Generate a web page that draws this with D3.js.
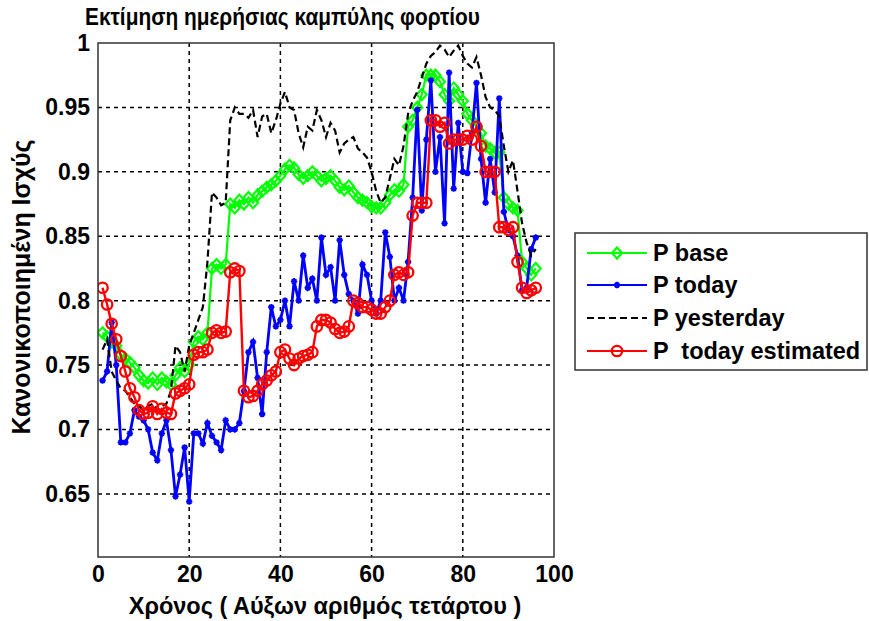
<!DOCTYPE html>
<html>
<head>
<meta charset="utf-8">
<script src="https://cdn.jsdelivr.net/npm/d3@7"></script>
<style>
  html, body { margin: 0; padding: 0; background: #fff; }
  svg { display: block; }
  text { font-family: Arial, "Liberation Sans", sans-serif; }
</style>
</head>
<body>
<svg id="chart" width="869" height="621"></svg>
<script>
// Daily load curve estimation: quarter-hour index 1..96, normalised power
const quarters = d3.range(1, 97);

const pBase = [
  0.775, 0.772, 0.768, 0.765, 0.758, 0.755, 0.752, 0.748, 0.742, 0.738,
  0.736, 0.740, 0.735, 0.740, 0.737, 0.735, 0.742, 0.748, 0.745, 0.750,
  0.768, 0.772, 0.770, 0.775, 0.825, 0.828, 0.825, 0.828, 0.875, 0.872,
  0.878, 0.875, 0.880, 0.876, 0.882, 0.885, 0.888, 0.890, 0.893, 0.897,
  0.902, 0.905, 0.903, 0.898, 0.895, 0.897, 0.900, 0.897, 0.893, 0.895,
  0.897, 0.893, 0.888, 0.886, 0.889, 0.884, 0.880, 0.878, 0.876, 0.873,
  0.872, 0.872, 0.876, 0.882, 0.886, 0.885, 0.890, 0.935, 0.940, 0.950,
  0.960, 0.975, 0.975, 0.975, 0.970, 0.960, 0.955, 0.965, 0.960, 0.955,
  0.945, 0.940, 0.935, 0.930, 0.920, 0.918, 0.915, 0.915, 0.880, 0.875,
  0.872, 0.870, 0.830, 0.825, 0.820, 0.825
];

const pToday = [
  0.738, 0.745, 0.783, 0.750, 0.690, 0.690, 0.697, 0.715, 0.710, 0.707,
  0.700, 0.682, 0.676, 0.697, 0.707, 0.684, 0.648, 0.665, 0.686, 0.644,
  0.697, 0.697, 0.689, 0.705, 0.695, 0.690, 0.684, 0.707, 0.700, 0.700,
  0.705, 0.730, 0.760, 0.768, 0.740, 0.712, 0.760, 0.795, 0.780, 0.785,
  0.800, 0.780, 0.815, 0.800, 0.835, 0.810, 0.817, 0.800, 0.849, 0.820,
  0.826, 0.800, 0.847, 0.820, 0.805, 0.800, 0.790, 0.828, 0.820, 0.800,
  0.790, 0.800, 0.853, 0.834, 0.800, 0.810, 0.800, 0.830, 0.880, 0.948,
  0.870, 0.925, 0.971, 0.900, 0.927, 0.860, 0.977, 0.887, 0.938, 0.900,
  0.899, 0.930, 0.969, 0.910, 0.876, 0.910, 0.884, 0.957, 0.869, 0.855,
  0.850, 0.835, 0.808, 0.810, 0.840, 0.849
];

const pYesterday = [
  0.762, 0.770, 0.745, 0.738, 0.732, 0.730, 0.725, 0.720, 0.718, 0.715,
  0.718, 0.720, 0.715, 0.718, 0.720, 0.730, 0.765, 0.760, 0.745, 0.765,
  0.775, 0.785, 0.795, 0.830, 0.884, 0.880, 0.874, 0.876, 0.940, 0.950,
  0.945, 0.945, 0.942, 0.948, 0.927, 0.943, 0.945, 0.930, 0.940, 0.953,
  0.962, 0.950, 0.948, 0.930, 0.919, 0.935, 0.932, 0.948, 0.940, 0.927,
  0.938, 0.932, 0.915, 0.922, 0.925, 0.927, 0.918, 0.915, 0.911, 0.900,
  0.885, 0.876, 0.880, 0.895, 0.910, 0.905, 0.920, 0.945, 0.955, 0.962,
  0.973, 0.984, 0.990, 0.993, 0.998, 0.995, 0.989, 0.994, 0.998, 0.990,
  0.984, 0.981, 0.989, 0.975, 0.958, 0.950, 0.948, 0.943, 0.920, 0.900,
  0.909, 0.885, 0.860, 0.845, 0.835, 0.840
];

const pEstimated = [
  0.810, 0.797, 0.782, 0.770, 0.757, 0.745, 0.732, 0.725, 0.715, 0.712,
  0.713, 0.718, 0.712, 0.716, 0.713, 0.712, 0.728, 0.730, 0.732, 0.735,
  0.758, 0.760, 0.760, 0.762, 0.775, 0.777, 0.775, 0.776, 0.822, 0.825,
  0.823, 0.730, 0.725, 0.726, 0.730, 0.735, 0.738, 0.742, 0.745, 0.760,
  0.762, 0.755, 0.750, 0.755, 0.757, 0.758, 0.760, 0.780, 0.785, 0.785,
  0.783, 0.778, 0.775, 0.776, 0.780, 0.800, 0.798, 0.795, 0.795, 0.793,
  0.790, 0.790, 0.795, 0.800, 0.820, 0.822, 0.820, 0.822, 0.866, 0.876,
  0.876, 0.876, 0.940, 0.940, 0.935, 0.938, 0.922, 0.925, 0.925, 0.925,
  0.928, 0.925, 0.935, 0.920, 0.900, 0.900, 0.900, 0.857, 0.857, 0.855,
  0.857, 0.830, 0.810, 0.806, 0.808, 0.810
];

const xTicks = [0, 20, 40, 60, 80, 100];
const yTicks = [0.65, 0.7, 0.75, 0.8, 0.85, 0.9, 0.95, 1];

const titleText = "Εκτίμηση ημερήσιας καμπύλης φορτίου";
const xLabelText = "Χρόνος ( Αύξων αριθμός τετάρτου )";
const yLabelText = "Κανονικοποιημένη Ισχύς";
const legendNames = ["P base", "P today", "P yesterday", "P  today estimated"];

const svg = d3.select("#chart");
const plot = { left: 98, right: 554, top: 43, bottom: 557 };

const x = d3.scaleLinear().domain([0, 100]).range([plot.left, plot.right]);
const y = d3.scaleLinear().domain([0.601, 1]).range([plot.bottom, plot.top]);

// dotted grid
const grid = svg.append("g");
grid.selectAll(".gx").data(xTicks.filter(t => t > 0 && t < 100)).enter().append("line")
  .attr("x1", d => x(d)).attr("x2", d => x(d))
  .attr("y1", plot.top).attr("y2", plot.bottom)
  .attr("stroke", "#000").attr("stroke-width", 1.5).attr("stroke-dasharray", "4,4");
grid.selectAll(".gy").data(yTicks.filter(t => t < 1)).enter().append("line")
  .attr("y1", d => y(d)).attr("y2", d => y(d))
  .attr("x1", plot.left).attr("x2", plot.right)
  .attr("stroke", "#000").attr("stroke-width", 1.5).attr("stroke-dasharray", "4,4");

// axes
const xAxis = d3.axisBottom(x).tickValues(xTicks).tickSize(0).tickPadding(9);
const yAxis = d3.axisLeft(y).tickValues(yTicks).tickSize(0).tickPadding(8)
  .tickFormat(d => d === 1 ? "1" : d3.format(".2~f")(d));

svg.append("g").attr("transform", `translate(0,${plot.bottom})`).call(xAxis)
  .call(g => g.select(".domain").remove())
  .selectAll("text").attr("font-size", 23).attr("font-weight", "bold").attr("fill", "#000")
  .attr("dy", "0.71em");
svg.append("g").attr("transform", `translate(${plot.left},0)`).call(yAxis)
  .call(g => g.select(".domain").remove())
  .selectAll("text").attr("font-size", 23).attr("font-weight", "bold").attr("fill", "#000");

svg.append("clipPath").attr("id", "plotclip").append("rect")
  .attr("x", plot.left).attr("y", plot.top - 6)
  .attr("width", plot.right - plot.left).attr("height", plot.bottom - plot.top + 6);

const lineGen = vals => d3.line().x((d, i) => x(quarters[i])).y(d => y(d))(vals);

const layer = svg.append("g").attr("clip-path", "url(#plotclip)");

// marker shapes
function diamond(g, cx, cy, color) {
  g.append("path").attr("d", `M${cx},${cy - 5.5}L${cx + 5},${cy}L${cx},${cy + 5.5}L${cx - 5},${cy}Z`)
    .attr("fill", "none").attr("stroke", color).attr("stroke-width", 2.2);
}
function star(g, cx, cy, color) {
  const r = 3.2;
  g.append("path").attr("d",
    `M${cx - r},${cy}L${cx + r},${cy}M${cx},${cy - r}L${cx},${cy + r}` +
    `M${cx - r * 0.7},${cy - r * 0.7}L${cx + r * 0.7},${cy + r * 0.7}` +
    `M${cx - r * 0.7},${cy + r * 0.7}L${cx + r * 0.7},${cy - r * 0.7}`)
    .attr("stroke", color).attr("stroke-width", 1.8);
}
function circle(g, cx, cy, color) {
  g.append("circle").attr("cx", cx).attr("cy", cy).attr("r", 5.2)
    .attr("fill", "none").attr("stroke", color).attr("stroke-width", 2.3);
}

const green = "#00ff00", blue = "#0000ff", red = "#ff0000";

const gBase = layer.append("g");
gBase.append("path").attr("d", lineGen(pBase)).attr("fill", "none")
  .attr("stroke", green).attr("stroke-width", 2.2);
pBase.forEach((v, i) => diamond(gBase, x(quarters[i]), y(v), green));

const gToday = layer.append("g");
gToday.append("path").attr("d", lineGen(pToday)).attr("fill", "none")
  .attr("stroke", blue).attr("stroke-width", 2.8);
pToday.forEach((v, i) => star(gToday, x(quarters[i]), y(v), blue));

const gYest = layer.append("g");
gYest.append("path").attr("d", lineGen(pYesterday)).attr("fill", "none")
  .attr("stroke", "#000").attr("stroke-width", 2.2).attr("stroke-dasharray", "7,4");

const gEst = layer.append("g");
gEst.append("path").attr("d", lineGen(pEstimated)).attr("fill", "none")
  .attr("stroke", red).attr("stroke-width", 2.4);
pEstimated.forEach((v, i) => circle(gEst, x(quarters[i]), y(v), red));

// axes box
svg.append("rect").attr("x", plot.left).attr("y", plot.top)
  .attr("width", plot.right - plot.left).attr("height", plot.bottom - plot.top)
  .attr("fill", "none").attr("stroke", "#333").attr("stroke-width", 1.5);

// titles
svg.append("text").attr("x", 85).attr("y", 25)
  .attr("font-size", 23).attr("font-weight", "bold").attr("fill", "#000")
  .attr("textLength", 395).attr("lengthAdjust", "spacingAndGlyphs").text(titleText);
svg.append("text").attr("x", 325).attr("y", 614).attr("text-anchor", "middle")
  .attr("font-size", 23.5).attr("font-weight", "bold").attr("fill", "#000").text(xLabelText);
svg.append("text").attr("transform", "translate(30,287) rotate(-90)").attr("text-anchor", "middle")
  .attr("font-size", 25).attr("font-weight", "bold").attr("fill", "#000").text(yLabelText);

// legend
const lg = svg.append("g");
lg.append("rect").attr("x", 575).attr("y", 233).attr("width", 292).attr("height", 137)
  .attr("fill", "#fff").attr("stroke", "#333").attr("stroke-width", 1.5);
const legendRows = [253, 285, 318, 351];
const lx1 = 587, lx2 = 647, lmid = 617;
lg.append("line").attr("x1", lx1).attr("x2", lx2).attr("y1", legendRows[0]).attr("y2", legendRows[0])
  .attr("stroke", green).attr("stroke-width", 2.2);
diamond(lg, lmid, legendRows[0], green);
lg.append("line").attr("x1", lx1).attr("x2", lx2).attr("y1", legendRows[1]).attr("y2", legendRows[1])
  .attr("stroke", blue).attr("stroke-width", 2.2);
star(lg, lmid, legendRows[1], blue);
lg.append("line").attr("x1", lx1).attr("x2", lx2).attr("y1", legendRows[2]).attr("y2", legendRows[2])
  .attr("stroke", "#000").attr("stroke-width", 2.2).attr("stroke-dasharray", "7,4");
lg.append("line").attr("x1", lx1).attr("x2", lx2).attr("y1", legendRows[3]).attr("y2", legendRows[3])
  .attr("stroke", red).attr("stroke-width", 2.2);
circle(lg, lmid, legendRows[3], red);
legendNames.forEach((name, i) => {
  lg.append("text").attr("x", 653).attr("y", legendRows[i]).attr("dy", "0.35em")
    .attr("font-size", 23.5).attr("font-weight", "bold").attr("fill", "#000")
    .attr("xml:space", "preserve").style("white-space", "pre").text(name);
});
</script>
</body>
</html>
